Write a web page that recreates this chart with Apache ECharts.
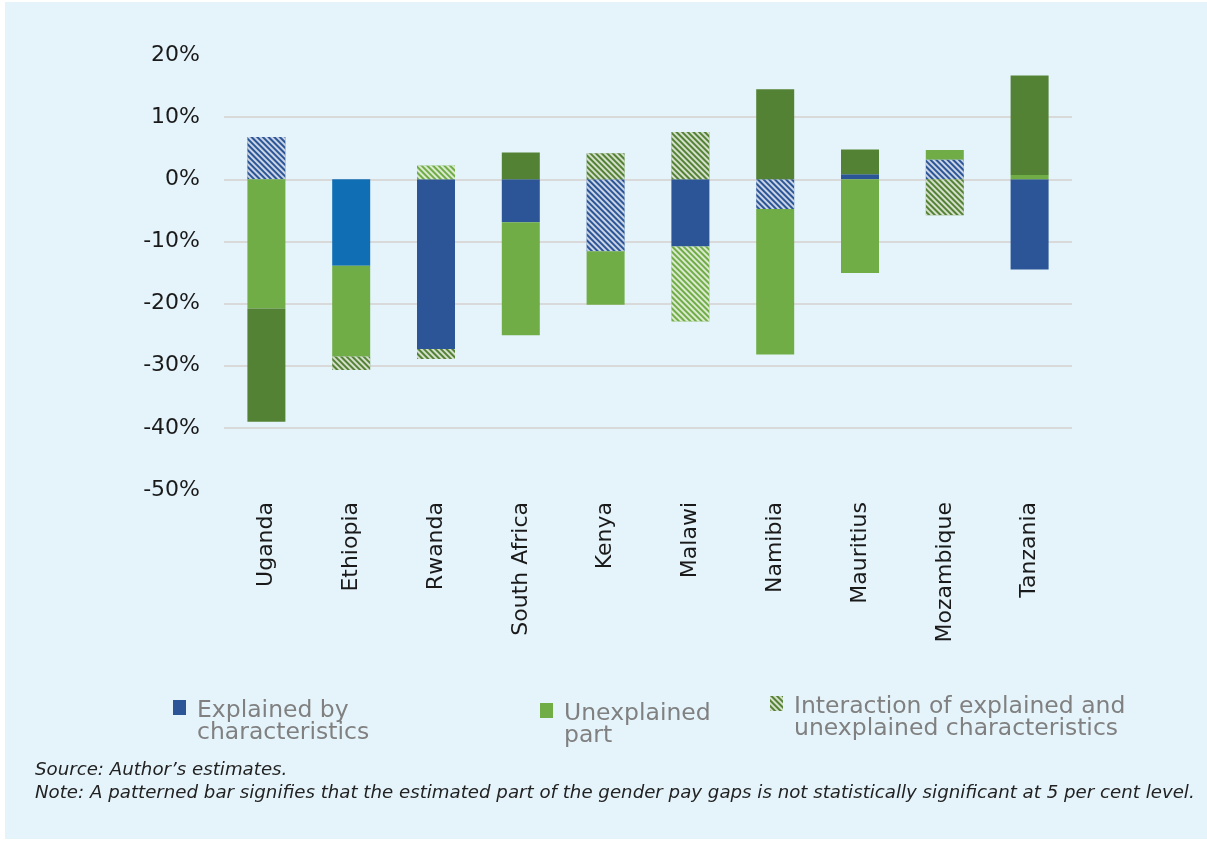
<!DOCTYPE html>
<html>
<head>
<meta charset="utf-8">
<script src="https://cdn.jsdelivr.net/npm/echarts@6/dist/echarts.min.js"></script>
<style>
    html, body { margin: 0; padding: 0; background: #ffffff; }
    .panel { position: absolute; left: 5px; top: 2px; width: 1202px; height: 837px; background: #E5F4FB; }
    #chart { position: absolute; left: 0; top: 0; width: 1207px; height: 841px; }
</style>
</head>
<body>
<div class="panel"></div>
<div id="chart"></div>
<script>
// countries on the x axis
const countries = ['Uganda', 'Ethiopia', 'Rwanda', 'South Africa', 'Kenya', 'Malawi', 'Namibia', 'Mauritius', 'Mozambique', 'Tanzania'];
// parts of the gender pay gap, in %
const explained   = [6.8, -13.9, -27.3, -6.9, -11.6, -10.8, -4.8, 0.8, 3.2, -14.5];
const unexplained = [-20.8, -14.6, 2.2, -18.2, -8.6, -12.1, -23.4, -15.1, 1.5, 0.7];
const interaction = [-18.2, -2.2, -1.6, 4.3, 4.2, 7.6, 14.5, 4.0, -5.8, 16.0];
// true = not statistically significant (patterned bar)
const explainedNs   = [true, false, false, false, true, false, true, false, true, false];
const unexplainedNs = [false, false, true, false, false, true, false, false, false, false];
const interactionNs = [false, true, true, false, true, true, false, false, true, false];
const yTicks = [-50, -40, -30, -20, -10, 0, 10, 20];

const seriesNames = ['Explained by characteristics', 'Unexplained part', 'Interaction of explained and unexplained characteristics'];
const legendText = {
    'Explained by characteristics': 'Explained by\ncharacteristics',
    'Unexplained part': 'Unexplained\npart',
    'Interaction of explained and unexplained characteristics': 'Interaction of explained and\nunexplained characteristics'
};

const font = 'DejaVu Sans';

const hatch = {
    symbol: 'rect',
    symbolSize: 1,
    dashArrayX: [1, 0],
    dashArrayY: [2, 2],
    rotation: Math.PI / 4,
    color: 'rgba(255,255,255,0.75)'
};

function buildData(values, flags, baseColor) {
    let arr = [];
    for (let i = 0; i < values.length; i++) {
        let item = { value: values[i], itemStyle: { color: baseColor } };
        if (flags[i]) {
            item.itemStyle.decal = hatch;
        }
        arr.push(item);
    }
    return arr;
}

const explainedData = buildData(explained, explainedNs, '#2B5597');
explainedData[1].itemStyle.color = '#106EB5'; // Ethiopia drawn in a lighter blue

// tall icon box with the square at its top, so it sits by the first text line
const legendIcon = 'path://M0,0H13V15H0Z M0,43.9H0.05V44H0Z';

function oneLegend(name, color, left, top, decal) {
    let d = { name: name, itemStyle: { color: color } };
    if (decal) d.itemStyle.decal = decal;
    return {
        left: left,
        top: top,
        padding: 0,
        orient: 'horizontal',
        icon: legendIcon,
        itemWidth: 13,
        itemHeight: 44,
        selectedMode: false,
        data: [d],
        formatter: n => legendText[n],
        textStyle: {
            color: '#808080',
            fontSize: 23.5,
            lineHeight: 22,
            fontFamily: font,
            padding: [0, 0, 0, 6]
        }
    };
}

const option = {
    backgroundColor: 'transparent',
    animation: false,
    grid: {
        left: 224,
        top: 55,
        width: 848,
        height: 435,
        containLabel: false
    },
    legend: [
        oneLegend(seriesNames[0], '#2B5597', 173, 699),
        oneLegend(seriesNames[1], '#70AD47', 540, 702),
        oneLegend(seriesNames[2], '#548235', 770, 695, hatch)
    ],
    xAxis: {
        type: 'category',
        data: countries,
        axisLine: { show: false },
        axisTick: { show: false },
        axisLabel: {
            rotate: 90,
            margin: 12,
            color: '#1a1a1a',
            fontSize: 22,
            fontFamily: font
        }
    },
    yAxis: {
        type: 'value',
        min: yTicks[0],
        max: yTicks[yTicks.length - 1],
        interval: 10,
        axisLine: { show: false },
        axisTick: { show: false },
        axisLabel: {
            formatter: '{value}%',
            margin: 24,
            color: '#1a1a1a',
            fontSize: 22,
            fontFamily: font
        },
        splitLine: {
            show: true,
            showMinLine: false,
            showMaxLine: false,
            lineStyle: { color: '#D9D9D9', width: 2 }
        }
    },
    series: [
        { name: seriesNames[0], type: 'bar', stack: 'gap', barWidth: 38, data: explainedData },
        { name: seriesNames[1], type: 'bar', stack: 'gap', barWidth: 38, data: buildData(unexplained, unexplainedNs, '#70AD47') },
        { name: seriesNames[2], type: 'bar', stack: 'gap', barWidth: 38, data: buildData(interaction, interactionNs, '#548235') }
    ],
    graphic: [
        {
            type: 'text', left: 35, top: 761,
            style: { text: 'Source: Author’s estimates.', fill: '#222222', font: 'italic 18.2px "DejaVu Sans"' }
        },
        {
            type: 'text', left: 35, top: 784,
            style: { text: 'Note: A patterned bar signifies that the estimated part of the gender pay gaps is not statistically significant at 5 per cent level.', fill: '#222222', font: 'italic 18.2px "DejaVu Sans"' }
        }
    ]
};

let myChart = echarts.init(document.getElementById('chart'));
myChart.setOption(option);
</script>
</body>
</html>
